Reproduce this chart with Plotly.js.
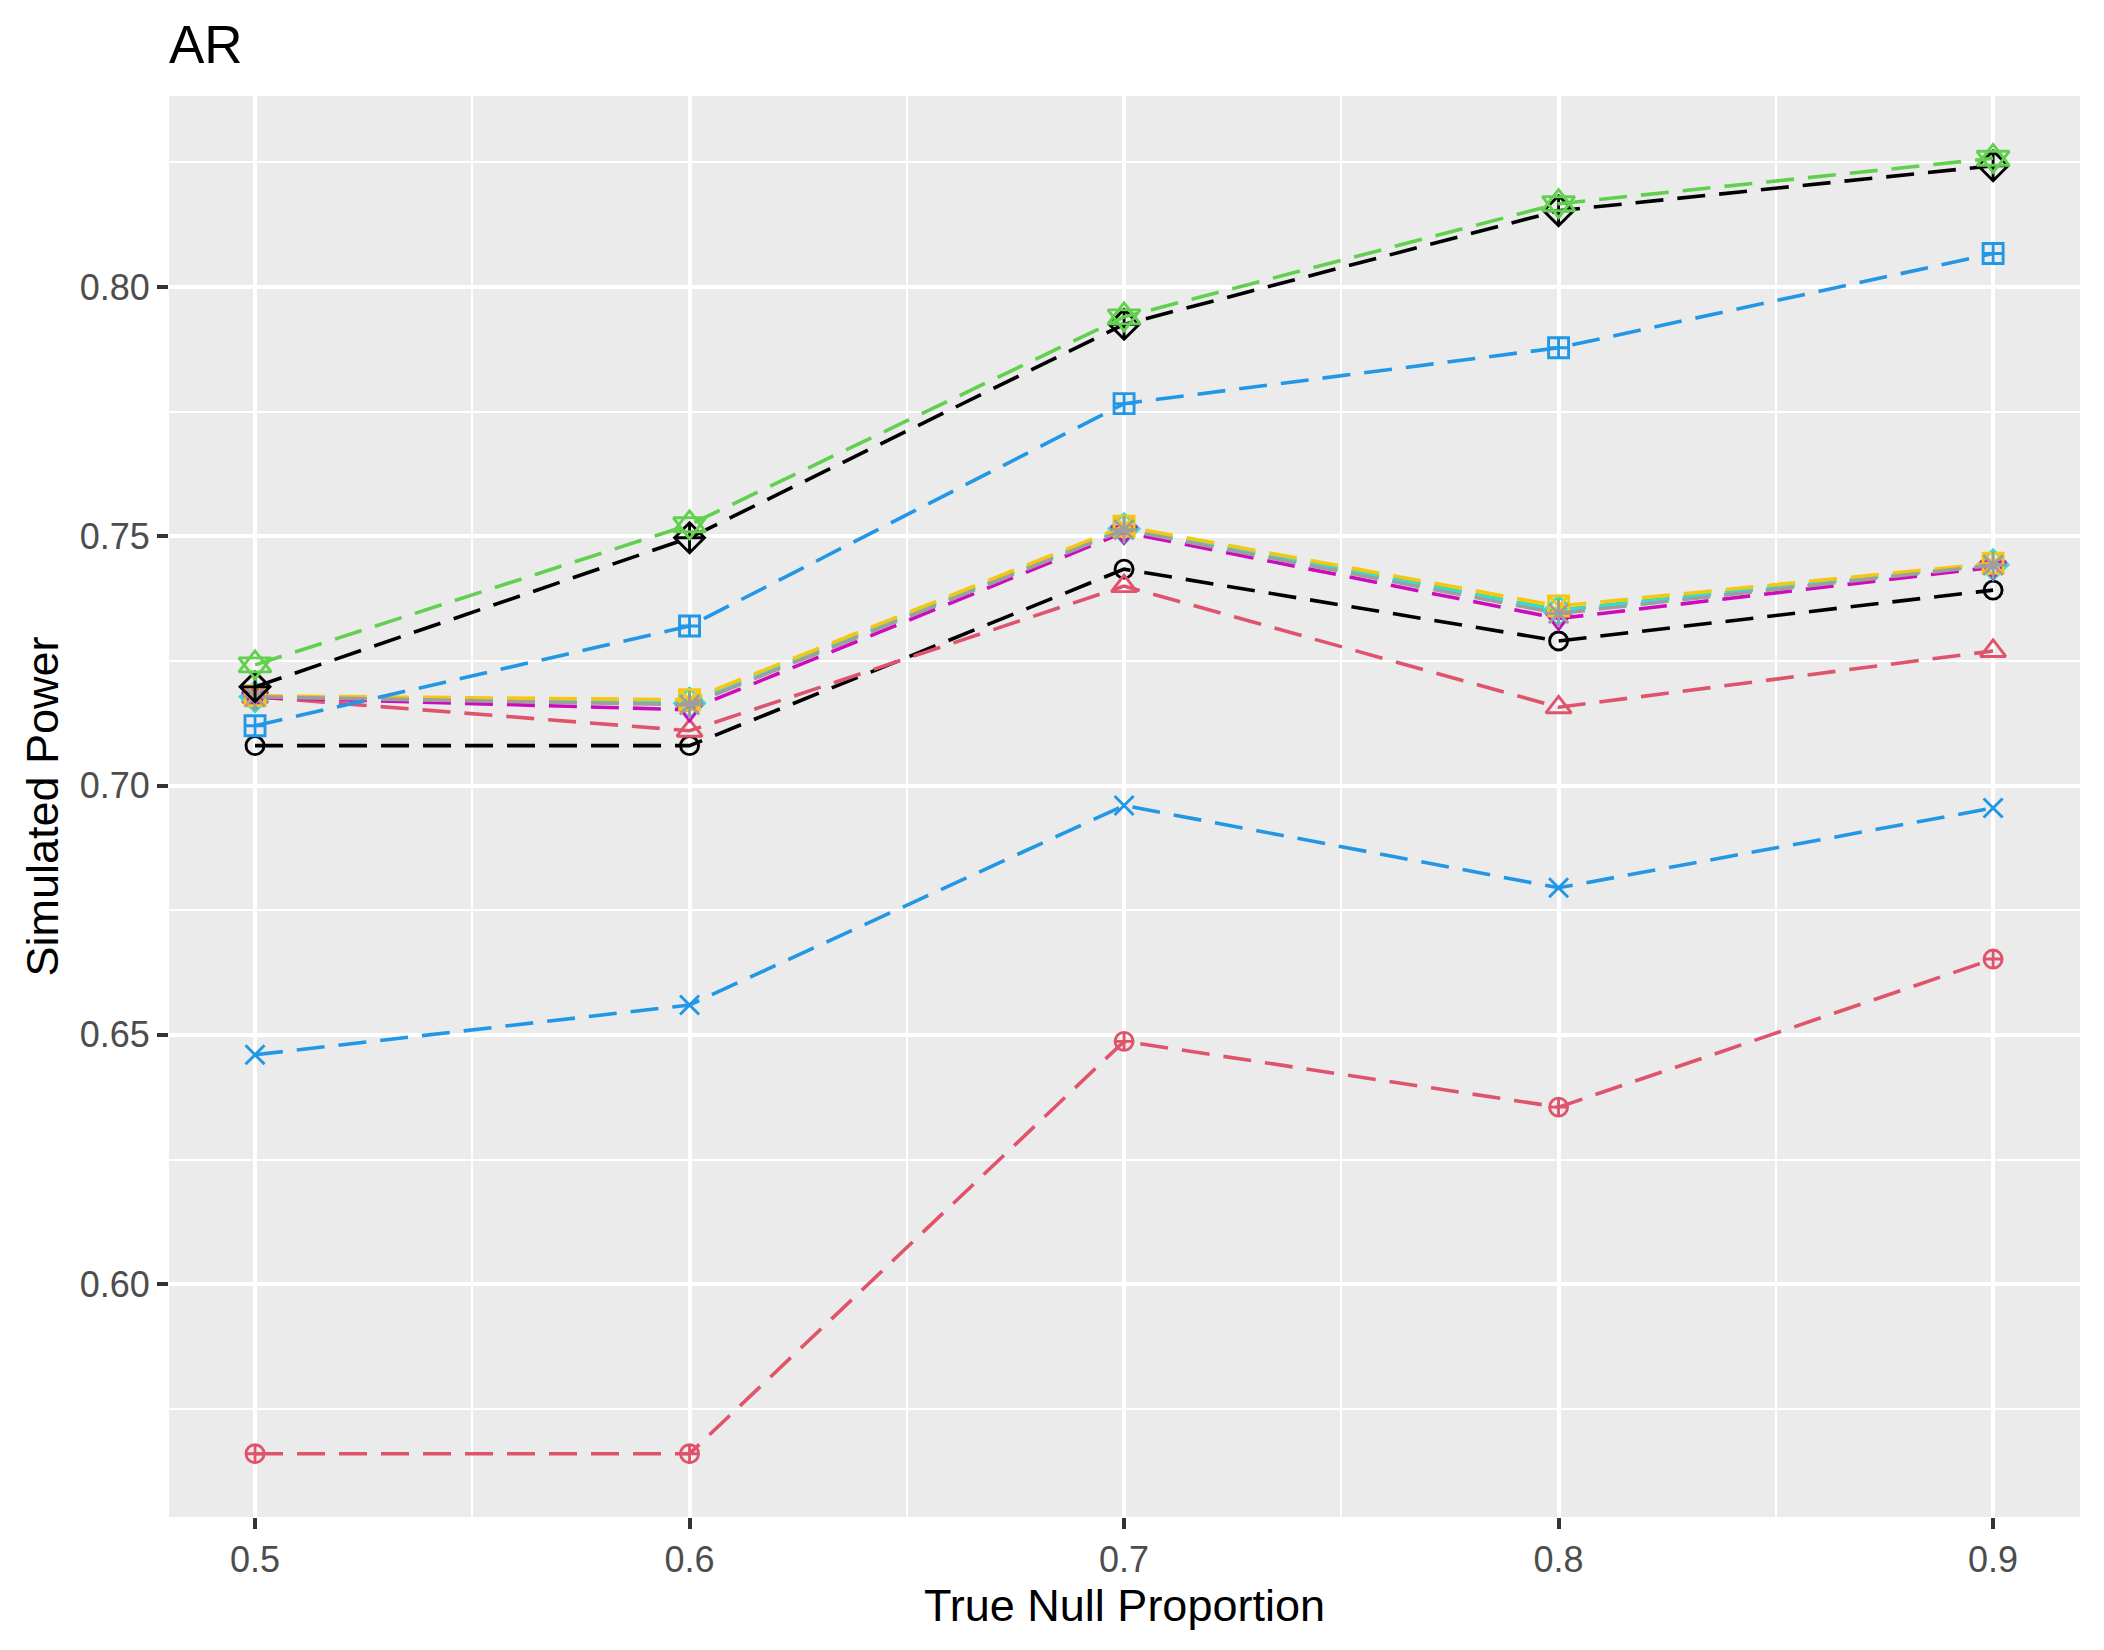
<!DOCTYPE html>
<html>
<head>
<meta charset="utf-8">
<script src="https://cdn.plot.ly/plotly-3.0.1.min.js"></script>
<style>html,body{margin:0;padding:0;background:#fff;}</style>
</head>
<body>
<div id="chart" style="width:2104px;height:1650px;"></div>
<script>
// Data
const nullProportion = [0.5, 0.6, 0.7, 0.8, 0.9];
const s1 = [0.708, 0.708, 0.7434, 0.729, 0.7392];
const s2 = [0.7178, 0.711, 0.740, 0.7157, 0.727];
const s3 = [0.7178, 0.7168, 0.7516, 0.7352, 0.7443];
const s4 = [0.646, 0.656, 0.696, 0.6795, 0.6955];
const s5 = [0.7178, 0.7165, 0.7515, 0.735, 0.7443];
const s6 = [0.7177, 0.7152, 0.7508, 0.7335, 0.7438];
const s7 = [0.718, 0.7172, 0.752, 0.736, 0.7446];
const s8 = [0.7178, 0.7162, 0.7513, 0.7345, 0.7442];
const s9 = [0.7198, 0.7497, 0.7925, 0.8153, 0.8243];
const s10 = [0.566, 0.566, 0.6487, 0.6355, 0.6652];
const s11 = [0.7242, 0.7523, 0.794, 0.8167, 0.8258];
const s12 = [0.712, 0.732, 0.7766, 0.7878, 0.8067];
const seriesValues = [s1, s2, s3, s4, s5, s6, s7, s8, s9, s10, s11, s12];
const seriesNames = ["1", "2", "3", "4", "5", "6", "7", "8", "9", "10", "11", "12"];
const xTickVals = [0.5, 0.6, 0.7, 0.8, 0.9];
const xTickText = ["0.5", "0.6", "0.7", "0.8", "0.9"];
const yTickVals = [0.60, 0.65, 0.70, 0.75, 0.80];
const yTickText = ["0.60", "0.65", "0.70", "0.75", "0.80"];

// Styles
const palette = ["#000000", "#DF536B", "#61D04F", "#2297E6", "#28E2E5", "#CD0BBC", "#F5C710", "#9E9E9E"];
const symbols = ["circle-open", "triangle-up-open", "cross-thin-open", "x-thin-open", "diamond-open",
  "triangle-down-open", "square-x-open", "asterisk-open", "diamond-cross-open", "circle-cross-open",
  "triangle-up-open", "square-cross-open"];
const sizes = [18, 22, 21, 19, 23, 22, 20, 23, 23, 18, 28, 20];

const traces = [];
seriesValues.forEach((vals, i) => {
  const col = palette[i % 8];
  traces.push({
    type: "scatter",
    mode: "lines+markers",
    x: nullProportion,
    y: vals,
    name: seriesNames[i],
    line: {color: col, width: 3.6, dash: "28px,14px"},
    marker: {symbol: symbols[i], size: sizes[i], color: col, line: {width: 2.9, color: col}},
    showlegend: false
  });
  if (i === 10) {
    // second triangle of the star-of-David symbol
    traces.push({
      type: "scatter", mode: "markers",
      x: nullProportion, y: vals, name: seriesNames[i],
      marker: {symbol: "triangle-down-open", size: sizes[i], color: col, line: {width: 2.9, color: col}},
      showlegend: false
    });
  }
});

const font = "Liberation Sans, Arial, Helvetica, sans-serif";
const layout = {
  width: 2104, height: 1650,
  margin: {l: 169, r: 24, t: 96, b: 133},
  paper_bgcolor: "#ffffff",
  plot_bgcolor: "#EBEBEB",
  font: {family: font},
  title: {text: "AR", font: {family: font, size: 53, color: "#000000"},
    x: 169/2104, xanchor: "left", xref: "container", y: 1 - 44/1650, yanchor: "middle", yref: "container"},
  xaxis: {
    range: [0.4802, 0.92],
    tickvals: xTickVals, ticktext: xTickText,
    ticks: "outside", ticklen: 11, tickwidth: 4, tickcolor: "#333333",
    tickfont: {family: font, size: 36, color: "#4D4D4D"},
    showgrid: true, gridcolor: "#FFFFFF", gridwidth: 4,
    minor: {tickvals: [0.55, 0.65, 0.75, 0.85], showgrid: true, gridcolor: "#FFFFFF", gridwidth: 2, ticks: ""},
    zeroline: false, showline: false,
    title: {text: "True Null Proportion", font: {family: font, size: 45, color: "#000000"}, standoff: 7}
  },
  yaxis: {
    range: [0.5533, 0.8383],
    tickvals: yTickVals, ticktext: yTickText,
    ticks: "outside", ticklen: 11, tickwidth: 4, tickcolor: "#333333",
    tickfont: {family: font, size: 36, color: "#4D4D4D"},
    showgrid: true, gridcolor: "#FFFFFF", gridwidth: 4,
    minor: {tickvals: [0.575, 0.625, 0.675, 0.725, 0.775, 0.825], showgrid: true, gridcolor: "#FFFFFF", gridwidth: 2, ticks: ""},
    zeroline: false, showline: false,
    title: {text: "Simulated Power", font: {family: font, size: 45, color: "#000000"}, standoff: 6}
  }
};

Plotly.newPlot("chart", traces, layout, {staticPlot: true, displayModeBar: false});
</script>
</body>
</html>
